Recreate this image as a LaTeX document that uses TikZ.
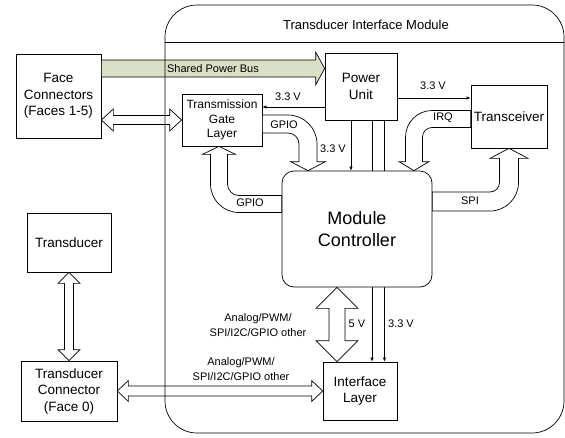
\documentclass[tikz,border=0pt]{standalone}
\usepackage{fontspec}
\setmainfont{Liberation Sans}
\usetikzlibrary{arrows.meta,calc}

\tikzset{
  box/.style={draw, fill=white, line width=0.7pt, align=center, inner sep=0pt, font=\fontsize{13.5}{16.5}\selectfont},
  lbl/.style={inner sep=0pt, align=center, font=\fontsize{11}{14.5}\selectfont},
  fat/.style={draw, fill=white, line width=0.7pt, line join=miter},
  wire/.style={line width=0.7pt, -{Latex[length=4pt,width=3.5pt]}},
}
\definecolor{busgreen}{RGB}{218,224,198}

% fat double arrows: #1 start, #2 end, #3 head length, #4 half head, #5 half body
\newcommand{\hdouble}[5]{\draw[fat] let \p1=(#1), \p2=(#2) in
  (\x1,\y1) -- (\x1+#3,\y1+#4) -- (\x1+#3,\y1+#5) -- (\x2-#3,\y1+#5) -- (\x2-#3,\y1+#4)
  -- (\x2,\y1) -- (\x2-#3,\y1-#4) -- (\x2-#3,\y1-#5) -- (\x1+#3,\y1-#5) -- (\x1+#3,\y1-#4) -- cycle;}
\newcommand{\vdouble}[5]{\draw[fat] let \p1=(#1), \p2=(#2) in
  (\x1,\y1) -- (\x1+#4,\y1-#3) -- (\x1+#5,\y1-#3) -- (\x1+#5,\y2+#3) -- (\x1+#4,\y2+#3)
  -- (\x1,\y2) -- (\x1-#4,\y2+#3) -- (\x1-#5,\y2+#3) -- (\x1-#5,\y1-#3) -- (\x1-#4,\y1-#3) -- cycle;}

\begin{document}
\begin{tikzpicture}[x=1pt,y=-1pt]
\useasboundingbox (0,0) rectangle (565,437);

\node[box, minimum width=85pt, minimum height=84pt] (face) at (58.5,96) {Face\\Connectors\\(Faces 1-5)};
\node[box, minimum width=80pt, minimum height=52pt, font=\fontsize{12}{14.5}\selectfont] (tgl) at (222,120) {Transmission\\Gate\\Layer};
\node[box, minimum width=72pt, minimum height=67pt] (pu) at (361,86.5) {Power\\Unit};
\node[box, minimum width=76pt, minimum height=63pt] (trx) at (509,116.5) {Transceiver};
\node[box, minimum width=74pt, minimum height=58pt] (il) at (360,391) {Interface\\Layer};
\node[box, minimum width=84pt, minimum height=59pt] (td) at (69,242.5) {Transducer};
\node[box, minimum width=96pt, minimum height=60pt] (tc) at (69,391) {Transducer\\Connector\\(Face 0)};

% power lines
\coordinate (putg) at ([yshift=-20.5pt]pu.west);
\coordinate (putr) at ([yshift=-11.5pt]pu.east);
\coordinate (pumc) at ([xshift=-10pt]pu.south);
\coordinate (pufive) at ([xshift=11pt]pu.south);
\coordinate (puthree) at ([xshift=23.5pt]pu.south);
\draw[wire] (putg) -- (putg -| tgl.east);
\draw[wire] (putr) -- (putr -| trx.west);
\draw[wire] (pufive) -- (pufive |- il.north);
\draw[wire] (puthree) -- (puthree |- il.north);

\node[box, rounded corners=12pt, minimum width=150pt, minimum height=116pt, font=\fontsize{18}{22}\selectfont] (mc) at (357,229) {Module\\Controller};
\draw[wire] (pumc) -- (pumc |- mc.north);

% shared power bus
\coordinate (busa) at ([yshift=27.5pt]face.east);
\draw[fat, fill=busgreen] let \p1=(busa), \p2=(busa -| pu.west) in
  (\x1,\y1+8.5pt) -- (\x2-9pt,\y1+8.5pt) -- (\x2-9pt,\y1+16.5pt) -- (\x2,\y1)
  -- (\x2-9pt,\y1-16.5pt) -- (\x2-9pt,\y1-8.5pt) -- (\x1,\y1-8.5pt) -- cycle;
\node[lbl] (bus) at (213,69) {Shared Power Bus};

\hdouble{tgl.west -| face.east}{tgl.west}{12pt}{11pt}{4.5pt}
\hdouble{tc.east}{tc.east -| il.west}{11pt}{10.5pt}{5pt}
\vdouble{td.south}{tc.north}{11pt}{11pt}{4.5pt}
\coordinate (mcil) at ([xshift=-20pt]mc.south);
\vdouble{mcil}{mcil |- il.north}{21pt}{21pt}{8pt}

% bent buses
\draw[fat] let \p1=([yshift=-4pt]tgl.east), \p2=([xshift=-49pt]mc.north) in
  (\x1,\y1+9pt) -- (\x2-20pt,\y1+9pt) arc[start angle=90, end angle=0, radius=29pt]
  -- (\x2+9pt,\y2+9pt) -- (\x2+17.5pt,\y2+9pt) -- (\x2,\y2) -- (\x2-17.5pt,\y2+9pt)
  -- (\x2-9pt,\y2+9pt) -- (\x2-9pt,\y1-20pt) arc[start angle=0, end angle=90, radius=11pt]
  -- (\x1,\y1-9pt) -- cycle;
\draw[fat] let \p1=([yshift=-2.5pt]trx.west), \p2=([xshift=57pt]mc.north) in
  (\x1,\y1+8.5pt) -- (\x2+18pt,\y1+8.5pt) arc[start angle=90, end angle=180, radius=26.5pt]
  -- (\x2-8.5pt,\y2+9pt) -- (\x2-15pt,\y2+9pt) -- (\x2,\y2) -- (\x2+15pt,\y2+9pt)
  -- (\x2+8.5pt,\y2+9pt) -- (\x2+8.5pt,\y1-18pt) arc[start angle=180, end angle=90, radius=9.5pt]
  -- (\x1,\y1-8.5pt) -- cycle;
\draw[fat] let \p1=([yshift=27.5pt]mc.east), \p2=(trx.south) in
  (\x1,\y1-9.5pt) -- (\x2-19pt,\y1-9.5pt) arc[start angle=-90, end angle=0, radius=28.5pt]
  -- (\x2+9.5pt,\y2-10pt) -- (\x2+19pt,\y2-10pt) -- (\x2,\y2) -- (\x2-19pt,\y2-10pt)
  -- (\x2-9.5pt,\y2-10pt) -- (\x2-9.5pt,\y1+19pt) arc[start angle=0, end angle=-90, radius=9.5pt]
  -- (\x1,\y1+9.5pt) -- cycle;
\draw[fat] let \p1=([yshift=25pt]mc.west), \p2=([xshift=-3pt]tgl.south) in
  (\x1,\y1-8.5pt) -- (\x2+20pt,\y1-8.5pt) arc[start angle=-90, end angle=-180, radius=28.5pt]
  -- (\x2-8.5pt,\y2-8pt) -- (\x2-16.5pt,\y2-8pt) -- (\x2,\y2) -- (\x2+16.5pt,\y2-8pt)
  -- (\x2+8.5pt,\y2-8pt) -- (\x2+8.5pt,\y1+20pt) arc[start angle=180, end angle=270, radius=11.5pt]
  -- (\x1,\y1+8.5pt) -- cycle;

\node[lbl] (lputg) at (288,97) {3.3 V};
\node[lbl] (lputr) at (433,86) {3.3 V};
\node[lbl] (lgpioa) at (284,125) {GPIO};
\node[lbl] (lpumc) at (333,149) {3.3 V};
\node[lbl] (lirq) at (443,118) {IRQ};
\node[lbl] (lspi) at (470,201) {SPI};
\node[lbl] (lgpiob) at (250,203) {GPIO};
\node[lbl] (lmcil) at (258,325) {Analog/PWM/\\SPI/I2C/GPIO other};
\node[lbl] (lfive) at (357,324) {5 V};
\node[lbl] (lthree) at (401,324) {3.3 V};
\node[lbl] (ltcil) at (241,369) {Analog/PWM/\\SPI/I2C/GPIO other};

% module frame
\node[draw, line width=0.7pt, rounded corners=32pt, minimum width=399pt, minimum height=428pt, inner sep=0pt] (tim) at (364.5,219) {};
\draw[line width=0.7pt] ([yshift=-38pt]tim.north west) -- ([yshift=-38pt]tim.north east);
\node[lbl, font=\fontsize{13}{15}\selectfont] (title) at (366,25) {Transducer Interface Module};
\end{tikzpicture}
\end{document}
